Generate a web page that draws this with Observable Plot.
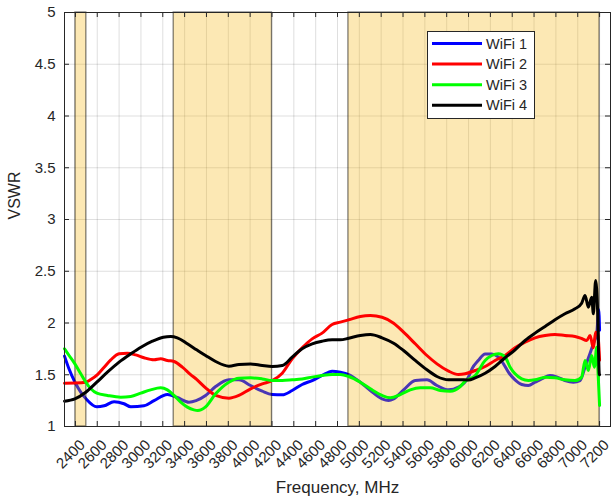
<!DOCTYPE html>
<html>
<head>
<meta charset="utf-8">
<script src="https://cdn.jsdelivr.net/npm/d3@7"></script>
<script src="https://cdn.jsdelivr.net/npm/@observablehq/plot@0.6"></script>
<style>
  body { margin: 0; background: #fff; }
  #wrap { position: relative; width: 611px; height: 503px; font-family: "Liberation Sans", Arial, sans-serif; }
  #legend { position: absolute; left: 427px; top: 31px; }
</style>
</head>
<body>
<div id="wrap"></div>
<script>
const seriesNames = ["WiFi 1", "WiFi 2", "WiFi 3", "WiFi 4"];
const seriesColors = ["#0000ff", "#ff0000", "#00ff00", "#000000"];

const wifi1Freq = [2300, 2340, 2395, 2450, 2495, 2596, 2663, 2754, 2845, 2907, 3028, 3120, 3242, 3333, 3440, 3505, 3592, 3684, 3805, 3897, 4004, 4111, 4202, 4294, 4385, 4476, 4568, 4659, 4751, 4826, 4903, 5009, 5101, 5208, 5268, 5314, 5405, 5512, 5619, 5711, 5817, 5908, 6000, 6031, 6091, 6152, 6213, 6274, 6320, 6365, 6426, 6487, 6548, 6609, 6670, 6746, 6807, 6883, 6960, 7021, 7067, 7113, 7143, 7174, 7192, 7200];
const wifi1Vswr = [1.68, 1.56, 1.43, 1.33, 1.27, 1.19, 1.20, 1.24, 1.22, 1.19, 1.20, 1.25, 1.31, 1.28, 1.235, 1.25, 1.30, 1.386, 1.451, 1.451, 1.396, 1.341, 1.309, 1.306, 1.348, 1.406, 1.444, 1.493, 1.535, 1.525, 1.502, 1.428, 1.348, 1.267, 1.251, 1.267, 1.354, 1.444, 1.451, 1.396, 1.354, 1.38, 1.48, 1.557, 1.64, 1.70, 1.70, 1.67, 1.605, 1.525, 1.451, 1.406, 1.396, 1.428, 1.46, 1.493, 1.48, 1.444, 1.428, 1.444, 1.573, 1.708, 1.80, 1.90, 2.13, 1.93];

const wifi2Freq = [2300, 2400, 2495, 2541, 2602, 2663, 2724, 2800, 2876, 2952, 3028, 3120, 3181, 3242, 3303, 3379, 3455, 3510, 3592, 3684, 3805, 3897, 4004, 4111, 4202, 4294, 4385, 4476, 4568, 4659, 4751, 4826, 4903, 5009, 5101, 5208, 5314, 5405, 5512, 5619, 5711, 5817, 5908, 5969, 6061, 6152, 6243, 6335, 6426, 6518, 6609, 6701, 6792, 6883, 6975, 7036, 7082, 7113, 7143, 7164, 7185, 7200];
const wifi2Vswr = [1.418, 1.42, 1.428, 1.454, 1.502, 1.573, 1.644, 1.702, 1.708, 1.692, 1.664, 1.644, 1.654, 1.638, 1.628, 1.573, 1.502, 1.455, 1.374, 1.30, 1.274, 1.30, 1.364, 1.412, 1.444, 1.515, 1.654, 1.76, 1.847, 1.902, 1.986, 2.008, 2.031, 2.063, 2.072, 2.056, 1.998, 1.911, 1.799, 1.686, 1.605, 1.535, 1.502, 1.509, 1.541, 1.58, 1.638, 1.686, 1.76, 1.815, 1.857, 1.879, 1.889, 1.879, 1.87, 1.85, 1.83, 1.88, 1.76, 1.911, 1.879, 1.64];

const wifi3Freq = [2300, 2342, 2395, 2449, 2495, 2541, 2596, 2693, 2815, 2907, 2998, 3089, 3181, 3242, 3303, 3364, 3425, 3485, 3520, 3592, 3684, 3805, 3897, 4004, 4111, 4202, 4294, 4385, 4476, 4568, 4659, 4751, 4826, 4903, 5009, 5101, 5208, 5284, 5375, 5466, 5558, 5649, 5741, 5832, 5924, 5969, 6061, 6152, 6213, 6274, 6335, 6381, 6426, 6487, 6548, 6609, 6701, 6792, 6883, 6975, 7036, 7067, 7097, 7128, 7152, 7174, 7188, 7200];
const wifi3Vswr = [1.751, 1.686, 1.605, 1.509, 1.428, 1.364, 1.322, 1.30, 1.283, 1.29, 1.322, 1.354, 1.374, 1.354, 1.30, 1.235, 1.187, 1.161, 1.155, 1.19, 1.316, 1.428, 1.467, 1.47, 1.46, 1.444, 1.444, 1.451, 1.46, 1.477, 1.493, 1.502, 1.502, 1.483, 1.428, 1.364, 1.30, 1.277, 1.309, 1.354, 1.374, 1.374, 1.348, 1.341, 1.386, 1.438, 1.493, 1.638, 1.686, 1.702, 1.67, 1.573, 1.509, 1.46, 1.444, 1.451, 1.477, 1.47, 1.451, 1.444, 1.477, 1.638, 1.541, 1.686, 1.573, 1.766, 1.477, 1.203];

const wifi4Freq = [2300, 2395, 2495, 2596, 2693, 2800, 2907, 3000, 3105, 3205, 3272, 3333, 3425, 3510, 3592, 3684, 3805, 3897, 4004, 4111, 4202, 4294, 4385, 4476, 4568, 4659, 4751, 4826, 4903, 5009, 5101, 5208, 5314, 5405, 5512, 5619, 5711, 5817, 5908, 6000, 6061, 6152, 6243, 6335, 6426, 6518, 6609, 6701, 6792, 6883, 6975, 7036, 7067, 7097, 7128, 7143, 7164, 7182, 7197, 7200];
const wifi4Vswr = [1.245, 1.267, 1.331, 1.428, 1.525, 1.622, 1.702, 1.766, 1.824, 1.863, 1.87, 1.857, 1.799, 1.741, 1.686, 1.628, 1.583, 1.599, 1.605, 1.589, 1.58, 1.589, 1.67, 1.751, 1.799, 1.824, 1.837, 1.837, 1.853, 1.879, 1.889, 1.857, 1.805, 1.734, 1.638, 1.548, 1.483, 1.451, 1.451, 1.45, 1.47, 1.515, 1.58, 1.664, 1.741, 1.831, 1.902, 1.966, 2.031, 2.089, 2.137, 2.191, 2.266, 2.153, 2.25, 2.089, 2.41, 2.12, 1.51, 1.50];

const bandStart = [2400, 3300, 4900];
const bandEnd = [2500, 4200, 7200];

const xTicks = [2400, 2600, 2800, 3000, 3200, 3400, 3600, 3800, 4000, 4200, 4400, 4600, 4800, 5000, 5200, 5400, 5600, 5800, 6000, 6200, 6400, 6600, 6800, 7000, 7200];
const yTicks = [1, 1.5, 2, 2.5, 3, 3.5, 4, 4.5, 5];

const freqs = [wifi1Freq, wifi2Freq, wifi3Freq, wifi4Freq];
const vswrs = [wifi1Vswr, wifi2Vswr, wifi3Vswr, wifi4Vswr];
const rows = [];
seriesNames.forEach((name, i) => {
  freqs[i].forEach((f, j) => rows.push({series: name, f, v: vswrs[i][j]}));
});
const rowsUnder = rows.filter(d => d.series === seriesNames[0]);
const rowsOver = rows.filter(d => d.series !== seriesNames[0]);
const bands = bandStart.map((s, i) => ({start: s, end: bandEnd[i]}));

const W = 611, H = 503, mL = 64, mR = 1, mT = 12, mB = 77;
const innerW = W - mL - mR, innerH = H - mT - mB;
const ink = "#262626";

const chart = Plot.plot({
  width: W, height: H,
  marginLeft: mL, marginRight: mR, marginTop: mT, marginBottom: mB,
  style: {fontFamily: "'Liberation Sans', Arial, sans-serif", fontSize: "15px", color: ink, background: "#fff"},
  x: {domain: [2300, 7300]},
  y: {domain: [1, 5]},
  color: {domain: seriesNames, range: seriesColors},
  marks: [
    Plot.gridX(xTicks, {stroke: ink, strokeOpacity: 0.15}),
    Plot.gridY(yTicks, {stroke: ink, strokeOpacity: 0.15}),
    Plot.line(rowsUnder, {x: "f", y: "v", z: "series", stroke: "series", strokeWidth: 3, curve: "monotone-x"}),
    Plot.rect(bands, {x1: "start", x2: "end", y1: 1, y2: 5, fill: "#F5B408", fillOpacity: 0.3, stroke: "#000", strokeOpacity: 0.5, strokeWidth: 1.3}),
    Plot.line(rowsOver, {x: "f", y: "v", z: "series", stroke: "series", strokeWidth: 3, curve: "monotone-x"}),
    Plot.tickY(yTicks, {y: d => d, insetRight: innerW - 5, stroke: ink}),
    Plot.tickY(yTicks, {y: d => d, insetLeft: innerW - 5, stroke: ink}),
    Plot.tickX(xTicks, {x: d => d, insetTop: innerH - 5, stroke: ink}),
    Plot.tickX(xTicks, {x: d => d, insetBottom: innerH - 5, stroke: ink}),
    Plot.frame({stroke: ink}),
    Plot.axisX({ticks: xTicks, tickRotate: -45, tickSize: 0, tickPadding: 16, dx: 7, tickFormat: d => String(d), label: null, fill: ink}),
    Plot.axisY({ticks: yTicks, tickSize: 0, tickPadding: 9, tickFormat: d => String(d), label: null, fill: ink}),
    Plot.text(["Frequency, MHz"], {frameAnchor: "bottom", dy: 66, fontSize: 17, fill: ink}),
    Plot.text(["VSWR"], {frameAnchor: "left", dx: -50, rotate: -90, fontSize: 16, fill: ink})
  ]
});

const wrap = document.getElementById("wrap");
wrap.appendChild(chart);

// legend
const lg = d3.select(wrap).append("svg").attr("id", "legend")
  .attr("width", 108).attr("height", 88);
lg.append("rect").attr("x", 0.5).attr("y", 0.5).attr("width", 107).attr("height", 87)
  .attr("fill", "#fff").attr("stroke", ink).attr("stroke-width", 1);
seriesNames.forEach((name, i) => {
  const cy = 12.5 + i * 20.6;
  lg.append("line").attr("x1", 5).attr("x2", 55).attr("y1", cy).attr("y2", cy)
    .attr("stroke", seriesColors[i]).attr("stroke-width", 3);
  lg.append("text").attr("x", 59).attr("y", cy).attr("dy", "0.35em")
    .attr("font-family", "'Liberation Sans', Arial, sans-serif").attr("font-size", 14.5)
    .attr("fill", ink).text(name);
});
</script>
</body>
</html>
